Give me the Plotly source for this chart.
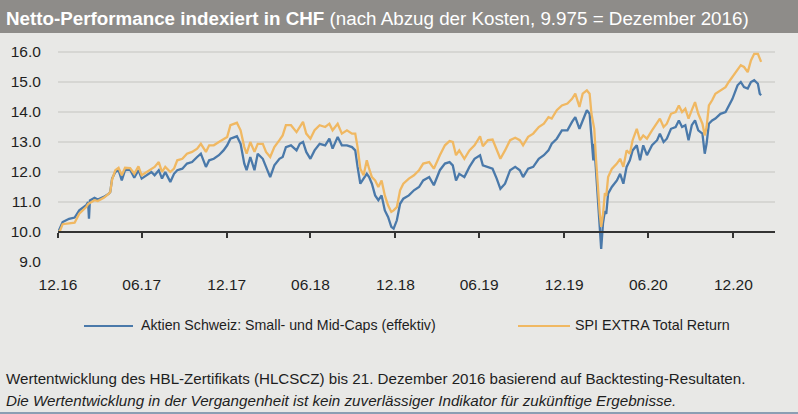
import plotly.graph_objects as go

# ---- data ----
dates = [
    "2016-12-31", "2017-01-05", "2017-01-10", "2017-01-24", "2017-02-05", "2017-02-15", "2017-03-02",
    "2017-03-06", "2017-03-08", "2017-03-10", "2017-03-20", "2017-03-27", "2017-04-09", "2017-04-20",
    "2017-04-23", "2017-04-27", "2017-05-04", "2017-05-11", "2017-05-18", "2017-05-25", "2017-06-05",
    "2017-06-14", "2017-06-23", "2017-06-30", "2017-07-10", "2017-07-21", "2017-07-28", "2017-08-06",
    "2017-08-13", "2017-08-20", "2017-08-31", "2017-09-08", "2017-09-15", "2017-09-26", "2017-10-06",
    "2017-10-17", "2017-10-28", "2017-11-05", "2017-11-16", "2017-11-23", "2017-12-03", "2017-12-14",
    "2017-12-24", "2018-01-01", "2018-01-08", "2018-01-22", "2018-01-30", "2018-02-07", "2018-02-12",
    "2018-02-20", "2018-03-01", "2018-03-08", "2018-03-19", "2018-03-26", "2018-04-04", "2018-04-13",
    "2018-04-24", "2018-05-01", "2018-05-08", "2018-05-19", "2018-05-31", "2018-06-07", "2018-06-14",
    "2018-06-21", "2018-06-30", "2018-07-09", "2018-07-20", "2018-08-01", "2018-08-10", "2018-08-17",
    "2018-08-28", "2018-09-06", "2018-09-17", "2018-09-28", "2018-10-05", "2018-10-10", "2018-10-16",
    "2018-10-23", "2018-10-30", "2018-11-04", "2018-11-10", "2018-11-17", "2018-11-24", "2018-12-01",
    "2018-12-08", "2018-12-15", "2018-12-22", "2018-12-27", "2019-01-03", "2019-01-10", "2019-01-17",
    "2019-01-29", "2019-02-09", "2019-02-20", "2019-03-01", "2019-03-14", "2019-03-24", "2019-04-06",
    "2019-04-17", "2019-04-27", "2019-05-04", "2019-05-11", "2019-05-18", "2019-05-29", "2019-06-09",
    "2019-06-20", "2019-07-02", "2019-07-08", "2019-07-19", "2019-07-29", "2019-08-07", "2019-08-15",
    "2019-08-25", "2019-09-05", "2019-09-16", "2019-09-26", "2019-10-03", "2019-10-14", "2019-10-25",
    "2019-11-06", "2019-11-17", "2019-11-27", "2019-12-04", "2019-12-15", "2019-12-26", "2020-01-07",
    "2020-01-17", "2020-01-24", "2020-02-02", "2020-02-09", "2020-02-18", "2020-02-24", "2020-02-28",
    "2020-03-03", "2020-03-05", "2020-03-09", "2020-03-13", "2020-03-17", "2020-03-20", "2020-03-24",
    "2020-03-28", "2020-03-31", "2020-04-04", "2020-04-12", "2020-04-23", "2020-04-30", "2020-05-07",
    "2020-05-14", "2020-05-21", "2020-05-27", "2020-06-05", "2020-06-12", "2020-06-19", "2020-06-27",
    "2020-07-08", "2020-07-19", "2020-07-25", "2020-08-02", "2020-08-09", "2020-08-18", "2020-08-28",
    "2020-09-04", "2020-09-11", "2020-09-18", "2020-09-25", "2020-10-02", "2020-10-09", "2020-10-16",
    "2020-10-25", "2020-10-30", "2020-11-03", "2020-11-08", "2020-11-15", "2020-11-22", "2020-12-03",
    "2020-12-14", "2020-12-21", "2020-12-29", "2021-01-09", "2021-01-16", "2021-01-23", "2021-01-31",
    "2021-02-07", "2021-02-14", "2021-02-22", "2021-02-26", "2021-03-01",
]
aktien = [
    9.98, 10.15, 10.33, 10.44, 10.48, 10.72, 10.89,
    11.00, 10.44, 11.05, 11.14, 11.08, 11.17, 11.28,
    11.33, 11.78, 12.00, 12.06, 11.72, 12.06, 12.08,
    11.81, 12.06, 11.78, 11.89, 12.00, 11.89, 12.06,
    11.78, 12.00, 11.67, 11.94, 12.06, 12.11, 12.28,
    12.33, 12.50, 12.61, 12.17, 12.39, 12.44, 12.56,
    12.72, 12.89, 13.11, 13.19, 12.94, 12.28, 12.06,
    12.50, 12.06, 12.61, 12.44, 12.17, 11.83, 12.22,
    12.44, 12.50, 12.83, 12.89, 12.72, 12.94, 13.00,
    12.67, 12.44, 12.72, 12.94, 12.89, 13.11, 12.78,
    13.17, 12.89, 12.89, 12.83, 12.72, 12.17, 11.61,
    11.78, 11.94, 11.83, 11.61, 11.22, 11.06, 11.22,
    10.72, 10.50, 10.17, 10.11, 10.39, 10.94, 11.11,
    11.22, 11.39, 11.50, 11.72, 11.83, 11.56, 12.06,
    12.28, 12.33, 12.22, 11.72, 11.94, 11.83, 12.17,
    12.44, 12.56, 12.22, 12.17, 12.11, 11.78, 11.44,
    11.61, 12.06, 12.17, 12.06, 11.83, 12.11, 12.17,
    12.44, 12.56, 12.72, 12.94, 13.11, 13.39, 13.39,
    13.67, 13.83, 13.44, 13.72, 14.06, 13.94, 13.17,
    12.39, 12.94, 12.06, 10.94, 10.17, 9.44, 10.30,
    10.70, 10.60, 11.28, 11.50, 11.72, 11.94, 11.61,
    12.17, 12.39, 12.72, 12.89, 12.39, 12.89, 12.56,
    12.89, 13.06, 13.28, 13.00, 13.11, 13.44, 13.50,
    13.72, 13.50, 13.56, 13.06, 13.56, 13.72, 13.39,
    13.28, 12.61, 12.94, 13.61, 13.72, 13.78, 13.94,
    14.00, 14.22, 14.44, 14.89, 15.00, 14.83, 14.78,
    15.00, 15.06, 14.94, 14.61, 14.56,
]
spi_extra = [
    9.975, 10.06, 10.26, 10.30, 10.31, 10.61, 10.83,
    10.93, 10.95, 10.97, 11.06, 11.03, 11.14, 11.28,
    11.33, 11.75, 12.06, 12.14, 11.89, 12.14, 12.13,
    11.94, 12.19, 11.89, 12.00, 12.11, 12.17, 12.33,
    12.00, 12.17, 12.00, 12.11, 12.39, 12.44, 12.61,
    12.67, 12.78, 12.94, 12.67, 12.89, 12.89, 13.00,
    13.08, 13.17, 13.56, 13.64, 13.39, 12.83, 12.61,
    13.00, 12.67, 12.94, 12.94, 12.67, 12.50, 12.83,
    13.06, 13.22, 13.56, 13.56, 13.33, 13.50, 13.67,
    13.28, 13.11, 13.39, 13.56, 13.50, 13.61, 13.39,
    13.61, 13.28, 13.39, 13.28, 13.28, 12.83, 12.11,
    11.89, 12.39, 12.11, 11.83, 11.72, 11.50, 11.72,
    11.22, 10.89, 10.67, 10.72, 10.83, 11.39, 11.61,
    11.78, 11.89, 12.06, 12.28, 12.33, 12.11, 12.56,
    12.89, 13.03, 13.00, 12.56, 12.72, 12.44, 12.72,
    12.89, 13.19, 12.86, 13.06, 13.08, 12.72, 12.44,
    12.72, 13.06, 13.14, 13.06, 12.89, 13.17, 13.28,
    13.50, 13.61, 13.83, 13.78, 14.06, 14.22, 14.28,
    14.44, 14.61, 14.17, 14.61, 14.72, 14.61, 13.94,
    13.50, 13.44, 12.39, 11.28, 10.61, 10.17, 10.60,
    11.30, 11.20, 11.83, 12.10, 12.28, 12.44, 12.17,
    12.72, 12.61, 13.06, 13.44, 13.06, 13.22, 13.11,
    13.39, 13.67, 13.78, 13.50, 13.61, 13.94, 14.00,
    14.22, 14.00, 14.11, 13.78, 14.06, 14.33, 13.94,
    13.61, 13.22, 13.50, 14.22, 14.39, 14.61, 14.72,
    14.83, 15.00, 15.17, 15.39, 15.56, 15.50, 15.33,
    15.72, 15.94, 15.94, 15.78, 15.67,
]
series_names = ["Aktien Schweiz: Small- und Mid-Caps (effektiv)", "SPI EXTRA Total Return"]
x_tick_dates = ["2016-12-31", "2017-06-30", "2017-12-31", "2018-06-30", "2018-12-31",
                "2019-06-30", "2019-12-31", "2020-06-30", "2020-12-31"]
x_tick_labels = ["12.16", "06.17", "12.17", "06.18", "12.18", "06.19", "12.19", "06.20", "12.20"]
y_ticks = [9, 10, 11, 12, 13, 14, 15, 16]

title_bold = "Netto-Performance indexiert in CHF"
title_rest = "(nach Abzug der Kosten, 9.975 = Dezember 2016)"
footer_1 = "Wertentwicklung des HBL-Zertifikats (HLCSCZ) bis 21. Dezember 2016 basierend auf Backtesting-Resultaten."
footer_2 = "Die Wertentwicklung in der Vergangenheit ist kein zuverlässiger Indikator für zukünftige Ergebnisse."

# ---- style ----
W, H = 798, 414
ML, MR, MT, MB = 58, 23, 44, 152
PW, PH = W - ML - MR, H - MT - MB
FONT = "Liberation Sans, Arial, sans-serif"
BG = "#e8e8e6"
BLUE = "#4a79aa"
ORANGE = "#f0b862"
TXT = "#1e1e1e"


def px(xp):
    return (xp - ML) / PW


def py(yp):
    return (H - MB - yp) / PH


fig = go.Figure()
fig.add_trace(go.Scatter(x=dates, y=aktien, name=series_names[0], mode="lines",
                         line=dict(color=BLUE, width=2.3), xaxis="x", yaxis="y"))
fig.add_trace(go.Scatter(x=dates, y=spi_extra, name=series_names[1], mode="lines",
                         line=dict(color=ORANGE, width=2.3), xaxis="x2", yaxis="y"))

y_lo, y_hi = 9, 9 + PH / 30.0
fig.update_layout(
    width=W, height=H,
    margin=dict(l=ML, r=MR, t=MT, b=MB, pad=0, autoexpand=False),
    paper_bgcolor=BG, plot_bgcolor=BG,
    showlegend=False,
    font=dict(family=FONT, size=15, color=TXT),
    xaxis=dict(type="date", range=["2016-12-31", "2021-03-31"], automargin=False,
               tickvals=x_tick_dates, ticktext=x_tick_labels,
               showgrid=False, zeroline=False, showline=False,
               ticks="outside", ticklen=8, tickcolor="rgba(0,0,0,0)",
               tickfont=dict(family=FONT, size=15.5, color=TXT)),
    xaxis2=dict(type="date", matches="x", overlaying="x", anchor="free", automargin=False,
                position=(10 - y_lo) / (y_hi - y_lo),
                tickvals=x_tick_dates, showticklabels=False,
                showgrid=False, zeroline=False,
                showline=True, linecolor="#333333", linewidth=1.5,
                ticks="outside", ticklen=5, tickwidth=1.5, tickcolor="#333333"),
    yaxis=dict(range=[y_lo, y_hi], tickvals=y_ticks, tickformat=".1f", automargin=False,
               showgrid=True, gridcolor="#d6d6d3", gridwidth=1.5,
               zeroline=False, showline=False,
               ticks="outside", ticklen=13, tickcolor="rgba(0,0,0,0)",
               tickfont=dict(family=FONT, size=15.5, color=TXT)),
)

shapes = [
    dict(type="rect", xref="paper", yref="paper", x0=px(0), x1=px(W), y0=py(33), y1=py(0),
         fillcolor="#8e8c89", line=dict(width=0), layer="below"),
    dict(type="line", xref="paper", yref="paper", x0=px(0), x1=px(W), y0=py(413), y1=py(413),
         line=dict(color="#6d86a2", width=1.5)),
    dict(type="line", xref="paper", yref="paper", x0=px(84), x1=px(133), y0=py(326), y1=py(326),
         line=dict(color=BLUE, width=2)),
    dict(type="line", xref="paper", yref="paper", x0=px(518), x1=px(570), y0=py(326), y1=py(326),
         line=dict(color=ORANGE, width=2)),
]
annotations = [
    dict(xref="paper", yref="paper", x=px(4), y=py(18), xanchor="left", yanchor="middle",
         showarrow=False,
         text=f"<b>{title_bold}</b> {title_rest}",
         font=dict(family=FONT, size=18.8, color="#ffffff")),
    dict(xref="paper", yref="paper", x=px(139), y=py(325), xanchor="left", yanchor="middle",
         showarrow=False, text=series_names[0], font=dict(family=FONT, size=14.2, color=TXT)),
    dict(xref="paper", yref="paper", x=px(573), y=py(325), xanchor="left", yanchor="middle",
         showarrow=False, text=series_names[1], font=dict(family=FONT, size=14.3, color=TXT)),
    dict(xref="paper", yref="paper", x=px(4), y=py(378), xanchor="left", yanchor="middle",
         showarrow=False, text=footer_1, font=dict(family=FONT, size=15.15, color=TXT)),
    dict(xref="paper", yref="paper", x=px(4), y=py(400), xanchor="left", yanchor="middle",
         showarrow=False, text=f"<i>{footer_2}</i>", font=dict(family=FONT, size=15.2, color=TXT)),
]
fig.update_layout(shapes=shapes, annotations=annotations)

fig.write_html("out.html",
               config={"displayModeBar": False},
               post_script="document.body.style.margin='0';document.body.style.background='#e8e8e6';")
